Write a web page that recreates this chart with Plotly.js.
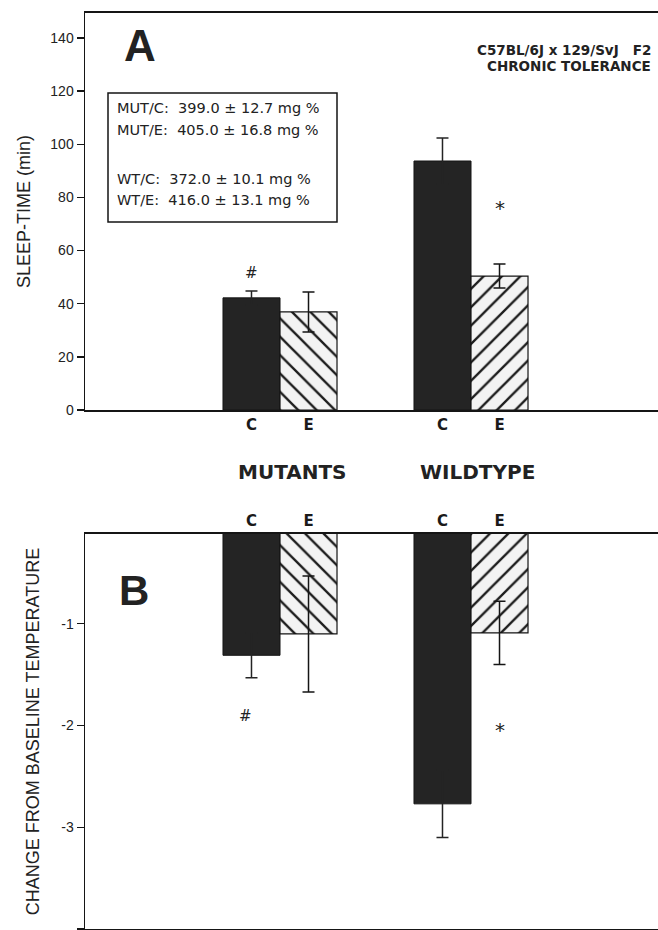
<!DOCTYPE html>
<html>
<head>
<meta charset="utf-8">
<script src="https://cdn.plot.ly/plotly-3.0.1.min.js"></script>
<style>html,body{margin:0;padding:0;background:#fff;}#chart{width:658px;height:930px;}</style>
</head>
<body>
<div id="chart"></div>
<script>
// ---- data ----
const groups = ["MUTANTS", "WILDTYPE"];
const conditions = ["C", "E"];
// Panel A: sleep time (min)
const sleepC = [42.2, 93.7];
const sleepCErr = [2.6, 8.7];
const sleepE = [36.9, 50.4];
const sleepEErr = [7.5, 4.5];
// Panel B: change from baseline temperature
const tempC = [-1.31, -2.77];
const tempCErr = [0.22, 0.33];
const tempE = [-1.10, -1.09];
const tempEErr = [0.57, 0.31];
// tick labels
const sleepTicks = [0, 20, 40, 60, 80, 100, 120, 140];
const tempTicks = [-1, -2, -3, -4];
const tempTickText = ["-1", "-2", "-3", "-4"];
// inset text
const insetLines = [
  "MUT/C:  399.0 \u00B1 12.7 mg %",
  "MUT/E:  405.0 \u00B1 16.8 mg %",
  "WT/C:  372.0 \u00B1 10.1 mg %",
  "WT/E:  416.0 \u00B1 13.1 mg %"
];
const strainLines = ["C57BL/6J x 129/SvJ   F2", "CHRONIC TOLERANCE"];
const eShapes = ["\\", "/"];

// ---- layout helpers ----
const W = 658, H = 930, L = 85, R = 0;
const PW = W - L - R;
const px2x = p => (p - L) / PW;
const px2y = p => 1 - p / H;
const BARGAP = 0.403;
const half = (1 - BARGAP) / 4; // half of one bar's width
const xIdx = groups.map((g, i) => i);
const tickVals = [];
const tickText = [];
xIdx.forEach(i => { conditions.forEach((c, j) => { tickVals.push(i + (j === 0 ? -half : half)); tickText.push(c); }); });

const DARK = '#242424';
const LINE = '#151515';
const errStyle = (arr, col) => ({type: 'data', array: arr, visible: true, color: col, thickness: 1.5, width: 6});
const solidMarker = {color: DARK, line: {color: LINE, width: 1}};
const hatchMarker = {color: '#ffffff', line: {color: LINE, width: 1.2},
  pattern: {shape: eShapes, fgcolor: '#1d1d1d', bgcolor: '#f3f3f3', size: 13, solidity: 0.18, fillmode: 'replace'}};

const traces = [
  {type: 'bar', name: 'C', x: xIdx, y: sleepC, error_y: errStyle(sleepCErr, DARK), marker: solidMarker, xaxis: 'x', yaxis: 'y'},
  {type: 'bar', name: 'E', x: xIdx, y: sleepE, error_y: errStyle(sleepEErr, LINE), marker: hatchMarker, xaxis: 'x', yaxis: 'y'},
  {type: 'bar', name: 'C', x: xIdx, y: tempC, error_y: errStyle(tempCErr, DARK), marker: solidMarker, xaxis: 'x2', yaxis: 'y2'},
  {type: 'bar', name: 'E', x: xIdx, y: tempE, error_y: errStyle(tempEErr, LINE), marker: hatchMarker, xaxis: 'x2', yaxis: 'y2'}
];

const xRange = [-(280 - 85) / 191, (658 - 280) / 191];
const tickFontX = {family: 'DejaVu Sans', size: 15, color: '#1a1a1a', weight: 'bold'};
const tickFontY = {family: 'Liberation Sans, Arial', size: 14, color: '#222'};
const titleFont = {family: 'Liberation Sans, Arial', size: 18, color: '#222'};

const ann = [];
const A0 = {showarrow: false, xanchor: 'center', yanchor: 'middle'};
// panel letters
ann.push(Object.assign({}, A0, {xref: 'paper', yref: 'paper', x: px2x(140), y: px2y(46), text: 'A',
  font: {family: 'Liberation Sans, Arial', size: 44, weight: 'bold', color: '#222'}}));
ann.push(Object.assign({}, A0, {xref: 'paper', yref: 'paper', x: px2x(134), y: px2y(590), text: 'B',
  font: {family: 'Liberation Sans, Arial', size: 42, weight: 'bold', color: '#222'}}));
// strain text
[50, 66].forEach((py, k) => ann.push(Object.assign({}, A0, {xref: 'paper', yref: 'paper', x: px2x(653), y: px2y(py), xanchor: 'right',
  text: strainLines[k], font: {family: 'DejaVu Sans', size: 13.5, weight: 'bold', color: '#222'}})));
// inset lines
[108, 130, 179, 200].forEach((py, k) => ann.push(Object.assign({}, A0, {xref: 'paper', yref: 'paper', x: px2x(115), y: px2y(py), xanchor: 'left',
  text: insetLines[k], font: {family: 'DejaVu Sans', size: 14.5, color: '#222'}})));
// group labels
[12, 6].forEach((dx, i) => ann.push(Object.assign({}, A0, {xref: 'x', yref: 'paper', x: xIdx[i], xshift: dx, y: px2y(472), text: groups[i],
  font: {family: 'DejaVu Sans', size: 20, weight: 'bold', color: '#222'}})));
// significance marks
ann.push(Object.assign({}, A0, {xref: 'x', yref: 'y', x: xIdx[0] - half, y: 51.5, text: '#', font: {family: 'DejaVu Sans', size: 15, color: '#222'}}));
ann.push(Object.assign({}, A0, {xref: 'x', yref: 'y', x: xIdx[1] + half, y: 76, text: '*', font: {family: 'DejaVu Sans', size: 20, color: '#222'}}));
ann.push(Object.assign({}, A0, {xref: 'x2', yref: 'y2', x: xIdx[0] - half, xshift: -6, y: -1.91, text: '#', font: {family: 'DejaVu Sans', size: 15, color: '#222'}}));
ann.push(Object.assign({}, A0, {xref: 'x2', yref: 'y2', x: xIdx[1] + half, y: -2.04, text: '*', font: {family: 'DejaVu Sans', size: 20, color: '#222'}}));

const layout = {
  width: W, height: H,
  margin: {l: L, r: R, t: 0, b: 0, pad: 0},
  paper_bgcolor: '#ffffff', plot_bgcolor: '#ffffff',
  showlegend: false,
  barmode: 'group', bargap: BARGAP, bargroupgap: 0,
  xaxis: {domain: [0, 1], anchor: 'y', range: xRange, tickmode: 'array', tickvals: tickVals, ticktext: tickText,
    ticks: '', showline: true, linecolor: LINE, linewidth: 2, mirror: true, showgrid: false, zeroline: false,
    tickfont: tickFontX},
  yaxis: {domain: [px2y(410), px2y(13)], anchor: 'x', range: [0, 149.4], tickmode: 'array', tickvals: sleepTicks,
    ticks: 'outside', ticklen: 7, tickwidth: 1.5, tickcolor: LINE, showline: true, linecolor: LINE, linewidth: 1.5,
    showgrid: false, zeroline: false, tickfont: tickFontY, automargin: 'left',
    title: {text: 'SLEEP-TIME (min)', font: titleFont, standoff: 15}},
  xaxis2: {domain: [0, 1], anchor: 'y2', side: 'top', range: xRange, tickmode: 'array', tickvals: tickVals, ticktext: tickText,
    ticks: '', showline: true, linecolor: LINE, linewidth: 2, mirror: true, showgrid: false, zeroline: false,
    tickfont: tickFontX},
  yaxis2: {domain: [px2y(929), px2y(534)], anchor: 'x2', range: [-4.0, -0.118], tickmode: 'array', tickvals: tempTicks,
    ticktext: tempTickText, ticks: 'outside', ticklen: 7, tickwidth: 1.5, tickcolor: LINE, showline: true, linecolor: LINE,
    linewidth: 1.5, showgrid: false, zeroline: false, tickfont: tickFontY,
    title: {text: 'CHANGE FROM BASELINE TEMPERATURE', font: titleFont}},
  shapes: [
    {type: 'rect', xref: 'paper', yref: 'paper', x0: px2x(108), x1: px2x(337), y0: px2y(222), y1: px2y(93),
      line: {color: LINE, width: 1.5}, fillcolor: 'rgba(0,0,0,0)'}
  ],
  annotations: ann
};

Plotly.newPlot('chart', traces, layout, {displayModeBar: false, staticPlot: true});
</script>
</body>
</html>
